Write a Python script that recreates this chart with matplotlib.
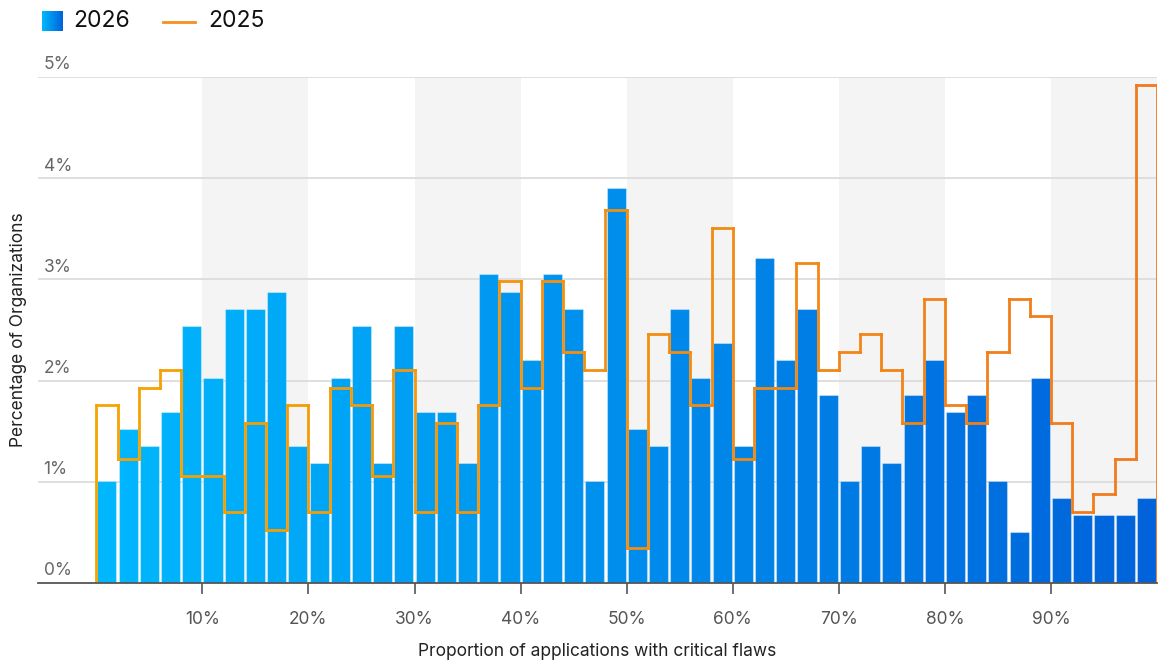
import numpy as np
import matplotlib
matplotlib.use("Agg")
import matplotlib.pyplot as plt
from matplotlib.collections import LineCollection
from matplotlib.colors import to_rgb

plt.rcParams['font.family'] = ['Inter', 'DejaVu Sans']

## 2% 구간별 값
bin_edges = np.arange(0, 102, 2)
share_2026 = [1.01, 1.52, 1.35, 1.69, 2.54, 2.03, 2.71, 2.71, 2.88, 1.35,
              1.19, 2.03, 2.54, 1.19, 2.54, 1.69, 1.69, 1.19, 3.05, 2.88,
              2.20, 3.05, 2.71, 1.01, 3.90, 1.52, 1.35, 2.71, 2.03, 2.37,
              1.35, 3.21, 2.20, 2.71, 1.86, 1.01, 1.35, 1.19, 1.86, 2.20,
              1.69, 1.86, 1.01, 0.50, 2.03, 0.84, 0.67, 0.67, 0.67, 0.84]
share_2025 = [1.76, 1.23, 1.93, 2.10, 1.06, 1.06, 0.70, 1.58, 0.52, 1.76,
              0.70, 1.93, 1.76, 1.06, 2.10, 0.70, 1.58, 0.70, 1.76, 2.98,
              1.93, 2.98, 2.28, 2.10, 3.69, 0.35, 2.46, 2.28, 1.76, 3.51,
              1.23, 1.93, 1.93, 3.16, 2.10, 2.28, 2.46, 2.10, 1.58, 2.81,
              1.76, 1.58, 2.28, 2.81, 2.64, 1.58, 0.70, 0.88, 1.23, 4.92]
x_ticks = [10, 20, 30, 40, 50, 60, 70, 80, 90]
x_tick_labels = ['10%', '20%', '30%', '40%', '50%', '60%', '70%', '80%', '90%']
y_ticks = [0, 1, 2, 3, 4, 5]
y_tick_labels = ['0%', '1%', '2%', '3%', '4%', '5%']
band_starts = [10, 30, 50, 70, 90]

blue_left, blue_right = np.array(to_rgb('#00b8fe')), np.array(to_rgb('#0062da'))
orange_left, orange_right = np.array(to_rgb('#f6a400')), np.array(to_rgb('#f0791f'))


def mix(a, b, t):
    return tuple(a + (b - a) * t)


fig = plt.figure(figsize=(11.64, 6.62), dpi=100)
ax = fig.add_axes([38 / 1164, 1 - 583 / 662, (1157 - 38) / 1164, (583 - 77) / 662])

## 회색 배경 구간
for s in band_starts:
    ax.axvspan(s, s + 10, ymin=0, ymax=1, color='#f4f4f4', zorder=0, lw=0)

## 가로 격자
for v in y_ticks[1:]:
    ax.axhline(v, color='#dcdcdc', lw=1.3, zorder=0.5)

## 2026 막대
centers = (bin_edges[:-1] + bin_edges[1:]) / 2
bar_colors = [mix(blue_left, blue_right, c / 100) for c in centers]
ax.bar(centers, share_2026, width=1.8, color=bar_colors,
       edgecolor=(1, 1, 1, 0.35), linewidth=0.8, zorder=2)

## 2025 계단선 (그라데이션)
xs = [bin_edges[0]]
ys = [0]
for i, v in enumerate(share_2025):
    xs += [bin_edges[i], bin_edges[i + 1]]
    ys += [v, v]
xs.append(bin_edges[-1])
ys.append(0)
pts = np.column_stack([xs, ys])
segs = np.stack([pts[:-1], pts[1:]], axis=1)
seg_colors = [mix(orange_left, orange_right, (a[0] + b[0]) / 200) for a, b in segs]
lc = LineCollection(segs, colors=seg_colors, linewidths=2, zorder=3,
                    capstyle='projecting', joinstyle='miter')
ax.add_collection(lc)

ax.set_xlim(-5.5, 100)
ax.set_ylim(0, 5)
for sp in ['top', 'right', 'left']:
    ax.spines[sp].set_visible(False)
ax.spines['bottom'].set_color('#555555')
ax.spines['bottom'].set_linewidth(1.3)
ax.spines['bottom'].set_zorder(4)

ax.set_xticks(x_ticks)
ax.set_xticklabels(x_tick_labels)
ax.tick_params(axis='x', direction='out', length=8, width=1.2, color='#555555',
               labelsize=12.5, labelcolor='#555555', pad=12)
ax.set_yticks([])

for v, lab in zip(y_ticks, y_tick_labels):
    ax.text(0.005, v + 0.035, lab, transform=ax.get_yaxis_transform(),
            ha='left', va='bottom', fontsize=12.5, color='#666666')

ax.set_xlabel('Proportion of applications with critical flaws', fontsize=12.5,
              color='#222222', labelpad=11)
fig.text(19 / 1164, 1 - 330 / 662, 'Percentage of Organizations', rotation=90,
         ha='center', va='center', fontsize=12.5, color='#222222')

## 범례
lax = fig.add_axes([42 / 1164, 1 - 31 / 662, 20 / 1164, 20 / 662])
grad = np.linspace(0, 1, 50)
lax.imshow(np.array([[mix(blue_left, blue_right, t) for t in grad]]),
           aspect='auto', extent=[0, 1, 0, 1])
lax.axis('off')
fig.text(73 / 1164, 1 - 21 / 662, '2026', ha='left', va='center', fontsize=16.5, color='#111111')
fig.add_artist(plt.Line2D([163 / 1164, 195 / 1164], [1 - 22 / 662, 1 - 22 / 662],
                          color='#f39020', lw=2, transform=fig.transFigure))
fig.text(208 / 1164, 1 - 21 / 662, '2025', ha='left', va='center', fontsize=16.5, color='#111111')

fig.savefig('out.png', dpi=100)
